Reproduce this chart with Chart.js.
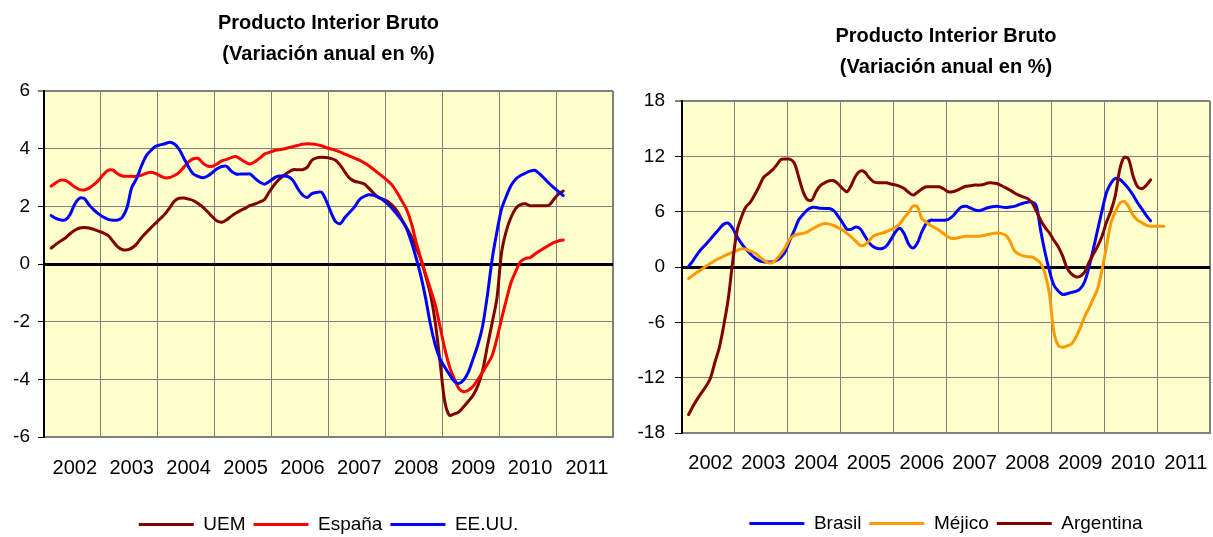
<!DOCTYPE html>
<html lang="es">
<head>
<meta charset="utf-8">
<title>Producto Interior Bruto</title>
<script src="https://cdn.jsdelivr.net/npm/chart.js@4.4.1/dist/chart.umd.min.js"></script>
<style>
  body { margin: 0; background: #fff; }
  #izq { position: absolute; left: 0; top: 0; }
  #der { position: absolute; left: 620px; top: 0; }
</style>
</head>
<body>
<canvas id="izq" width="620" height="537"></canvas>
<canvas id="der" width="593" height="537"></canvas>
<script>
// años del eje (una etiqueta por año, 12 meses por año)
const anios = ["2002", "2003", "2004", "2005", "2006", "2007", "2008", "2009", "2010", "2011"];
const meses = [];
anios.forEach(a => { for (let m = 1; m <= 12; m++) meses.push(a + "-" + m); });

const titulo = ["Producto Interior Bruto", "(Variación anual en %)"];

// grafica izquierda (variación anual en %, mensual)
const uem = [null,
  0.55, 0.68, 0.80, 0.90, 1.05, 1.17, 1.25, 1.27, 1.25, 1.20, 1.14, 1.08,
  0.99, 0.80, 0.60, 0.50, 0.49, 0.55, 0.69, 0.90, 1.08, 1.25, 1.41, 1.57,
  1.73, 1.95, 2.18, 2.28, 2.29, 2.25, 2.20, 2.10, 1.97, 1.81, 1.64, 1.49,
  1.45, 1.53, 1.66, 1.77, 1.86, 1.94, 2.03, 2.08, 2.15, 2.24, 2.50, 2.73,
  2.92, 3.06, 3.18, 3.27, 3.27, 3.27, 3.35, 3.60, 3.68, 3.70, 3.69, 3.66,
  3.60, 3.42, 3.18, 2.97, 2.87, 2.83, 2.78, 2.63, 2.46, 2.31, 2.25, 2.17,
  2.03, 1.83, 1.53, 1.25, 0.95, 0.55, 0.15, -0.42, -1.05, -2.00, -3.35, -4.75,
  -5.25, -5.20, -5.13, -4.95, -4.76, -4.55, -4.22, -3.70, -2.85, -2.05, -1.21, 0.40,
  1.15, 1.62, 1.93, 2.06, 2.09, 2.02, 2.02, 2.02, 2.02, 2.04, 2.24, 2.42,
  2.53];
const espana = [null,
  2.70, 2.82, 2.91, 2.90, 2.80, 2.67, 2.58, 2.57, 2.63, 2.75, 2.90, 3.10,
  3.25, 3.26, 3.13, 3.05, 3.04, 3.04, 3.04, 3.08, 3.14, 3.18, 3.14, 3.06,
  2.99, 3.00, 3.07, 3.18, 3.36, 3.54, 3.65, 3.66, 3.50, 3.40, 3.39, 3.47,
  3.58, 3.63, 3.69, 3.73, 3.63, 3.53, 3.47, 3.55, 3.67, 3.81, 3.87, 3.93,
  3.96, 3.99, 4.03, 4.07, 4.11, 4.15, 4.17, 4.16, 4.14, 4.10, 4.04, 3.99,
  3.94, 3.88, 3.81, 3.74, 3.67, 3.60, 3.51, 3.41, 3.28, 3.15, 3.02, 2.88,
  2.72, 2.47, 2.18, 1.88, 1.40, 0.75, 0.18, -0.36, -0.87, -1.40, -2.15, -2.92,
  -3.55, -3.97, -4.32, -4.43, -4.38, -4.24, -4.01, -3.75, -3.48, -3.18, -2.60, -1.90,
  -1.25, -0.64, -0.25, 0.08, 0.19, 0.22, 0.34, 0.45, 0.55, 0.65, 0.74, 0.80,
  0.83];
const eeuu = [null,
  1.68, 1.58, 1.53, 1.53, 1.72, 2.08, 2.28, 2.27, 2.05, 1.88, 1.74, 1.63,
  1.55, 1.52, 1.52, 1.62, 1.95, 2.65, 2.95, 3.38, 3.74, 3.93, 4.08, 4.13,
  4.17, 4.22, 4.16, 3.98, 3.67, 3.36, 3.12, 3.04, 2.99, 3.05, 3.17, 3.30,
  3.38, 3.39, 3.22, 3.12, 3.12, 3.12, 3.12, 2.97, 2.84, 2.77, 2.86, 2.98,
  3.05, 3.05, 3.03, 2.90, 2.62, 2.40, 2.31, 2.44, 2.48, 2.49, 2.20, 1.80,
  1.47, 1.40, 1.62, 1.80, 1.98, 2.23, 2.34, 2.40, 2.38, 2.32, 2.22, 2.08,
  1.91, 1.71, 1.50, 1.21, 0.75, 0.20, -0.43, -1.20, -2.10, -2.80, -3.29, -3.57,
  -3.83, -4.06, -4.14, -4.02, -3.75, -3.29, -2.80, -2.15, -1.10, 0.15, 1.10, 1.91,
  2.35, 2.72, 2.95, 3.07, 3.15, 3.22, 3.25, 3.13, 2.97, 2.80, 2.65, 2.51,
  2.37];

// grafica derecha
const brasil = [null,
  0.05, 0.70, 1.40, 2.00, 2.50, 3.05, 3.60, 4.15, 4.65, 4.75, 4.20, 3.30,
  2.55, 1.95, 1.45, 1.00, 0.70, 0.57, 0.54, 0.55, 0.70, 1.05, 1.70, 2.90,
  3.95, 5.10, 5.70, 6.20, 6.45, 6.45, 6.36, 6.34, 6.34, 6.10, 5.50, 4.80,
  4.10, 4.10, 4.35, 4.15, 3.40, 2.65, 2.20, 2.00, 2.00, 2.30, 3.00, 3.80,
  4.20, 3.60, 2.50, 2.05, 2.60, 3.80, 4.70, 5.07, 5.07, 5.07, 5.07, 5.15,
  5.50, 6.05, 6.50, 6.58, 6.40, 6.20, 6.10, 6.25, 6.42, 6.53, 6.59, 6.52,
  6.45, 6.50, 6.57, 6.75, 6.92, 7.02, 7.05, 6.65, 4.00, 1.60, -0.40, -1.95,
  -2.60, -2.98, -2.90, -2.75, -2.65, -2.35, -1.63, 0.00, 2.00, 4.10, 6.20, 8.10,
  9.10, 9.60, 9.50, 9.05, 8.50, 7.80, 7.00, 6.30, 5.60, 5.00];
const mejico = [null,
  -1.25, -0.90, -0.55, -0.25, 0.10, 0.40, 0.70, 0.95, 1.17, 1.40, 1.58, 1.80,
  1.97, 1.92, 1.72, 1.55, 1.15, 0.75, 0.48, 0.45, 0.85, 1.45, 2.15, 3.05,
  3.40, 3.58, 3.65, 3.80, 4.10, 4.35, 4.58, 4.71, 4.65, 4.50, 4.25, 4.02,
  3.65, 3.25, 2.80, 2.35, 2.40, 2.85, 3.35, 3.55, 3.68, 3.85, 4.05, 4.30,
  4.70, 5.35, 5.90, 6.60, 6.55, 5.25, 4.85, 4.50, 4.25, 3.95, 3.60, 3.25,
  3.08, 3.15, 3.25, 3.33, 3.33, 3.33, 3.33, 3.42, 3.52, 3.62, 3.68, 3.65,
  3.45, 2.85, 1.80, 1.40, 1.20, 1.12, 1.08, 0.85, 0.40, -0.70, -2.90, -7.00,
  -8.50, -8.70, -8.55, -8.35, -7.65, -6.60, -5.40, -4.45, -3.40, -2.30, -0.20, 2.30,
  4.80, 6.00, 6.90, 7.10, 6.55, 5.62, 5.10, 4.80, 4.55, 4.42, 4.42, 4.42,
  4.42];
const argentina = [null,
  -16.0, -15.1, -14.3, -13.6, -12.9, -12.0, -10.3, -8.7, -6.3, -3.5, 0.5, 3.9,
  5.4, 6.5, 7.0, 7.8, 8.7, 9.7, 10.1, 10.5, 11.05, 11.65, 11.7, 11.7,
  11.3, 9.8, 8.2, 7.3, 7.25, 8.2, 8.85, 9.15, 9.35, 9.35, 9.0, 8.5,
  8.15, 8.9, 9.9, 10.4, 10.3, 9.7, 9.25, 9.13, 9.13, 9.13, 9.0, 8.9,
  8.75, 8.5, 8.1, 7.8, 8.1, 8.45, 8.7, 8.7, 8.7, 8.7, 8.45, 8.15,
  8.15, 8.3, 8.55, 8.75, 8.8, 8.88, 8.88, 8.95, 9.1, 9.12, 9.06, 8.85,
  8.6, 8.35, 8.05, 7.8, 7.6, 7.43, 7.0, 6.1, 5.1, 4.3, 3.7, 2.9,
  2.2, 1.2, -0.1, -0.75, -1.05, -1.0, -0.54, 0.5, 1.4, 2.3, 3.4, 4.9,
  6.1, 7.8, 10.6, 11.9, 11.7, 9.9, 8.75, 8.5, 8.85, 9.45];

Chart.defaults.font.family = "'Liberation Sans', Arial, sans-serif";
Chart.defaults.color = "#000";

// fondo amarillo del area de trazado
const fondoAmarillo = {
  id: "fondoAmarillo",
  beforeDraw(chart) {
    const a = chart.chartArea;
    const ctx = chart.ctx;
    ctx.save();
    ctx.fillStyle = "#ffffcc";
    ctx.fillRect(a.left, a.top, a.right - a.left, a.bottom - a.top);
    ctx.restore();
  }
};

function serie(nombre, datos, color, orden) {
  return {
    label: nombre,
    data: datos,
    borderColor: color,
    backgroundColor: color,
    borderWidth: 3,
    borderCapStyle: "round",
    pointRadius: 0,
    tension: 0.3,
    fill: false,
    order: orden
  };
}

function crearGrafica(id, series, cfg) {
  new Chart(document.getElementById(id), {
    type: "line",
    data: { labels: meses, datasets: series },
    plugins: [fondoAmarillo],
    options: {
      responsive: false,
      animation: false,
      layout: { padding: cfg.padding },
      plugins: {
        tooltip: { enabled: false },
        title: {
          display: true,
          fullSize: false,
          text: titulo,
          color: "#000",
          font: { size: 20, weight: "bold", lineHeight: 1.55 },
          padding: cfg.tituloPad
        },
        legend: {
          position: "bottom",
          fullSize: false,
          labels: {
            usePointStyle: true,
            pointStyle: "line",
            pointStyleWidth: 55,
            padding: 8,
            color: "#000",
            font: { size: 19 },
            sort: (a, b) => a.datasetIndex - b.datasetIndex
          }
        }
      },
      scales: {
        x: {
          type: "category",
          offset: true,
          // el eje no reserva margen lateral para sus etiquetas
          afterFit: s => { s.height = cfg.altoX; s.paddingLeft = 0; s.paddingRight = 0; },
          grid: {
            offset: true,
            drawTicks: false,
            color: c => (c.index === undefined || c.index % 12 === 0 ? "#808080" : "transparent"),
            lineWidth: c => (c.index === undefined ? 2 : 1)
          },
          border: { color: "#808080", width: 2 },
          ticks: {
            autoSkip: false,
            maxRotation: 0,
            minRotation: 0,
            padding: cfg.padX,
            color: "#000",
            font: { size: 20 },
            callback: (v, i) => (i % 12 === 6 ? anios[Math.floor(i / 12)] : "")
          }
        },
        y: {
          min: cfg.min,
          max: cfg.max,
          afterFit: s => { s.width = cfg.anchoY; },
          ticks: {
            stepSize: cfg.paso,
            padding: cfg.padY,
            color: "#000",
            font: { size: 19 }
          },
          grid: {
            color: c => (c.tick && c.tick.value === 0 ? "#000" : "#808080"),
            lineWidth: c => (c.tick && c.tick.value === 0 ? 3 : (c.tick && c.tick.value === cfg.max ? 2 : 1)),
            tickLength: cfg.marca,
            tickColor: "#000",
            tickWidth: 1
          },
          border: { color: "#000", width: 2 }
        }
      }
    }
  });
}

crearGrafica("izq", [
  serie("UEM", uem, "#800000", 3),
  serie("España", espana, "#ff0000", 2),
  serie("EE.UU.", eeuu, "#0000ff", 1)
], {
  min: -6, max: 6, paso: 2,
  padding: { top: 0, left: 0, right: 7, bottom: -7 },
  tituloPad: { top: 8, bottom: 21 },
  anchoY: 44, marca: 6, padY: 8,
  altoX: 70, padX: 19
});

crearGrafica("der", [
  serie("Brasil", brasil, "#0000ff", 3),
  serie("Méjico", mejico, "#ff9900", 2),
  serie("Argentina", argentina, "#800000", 1)
], {
  min: -18, max: 18, paso: 6,
  padding: { top: 0, left: 0, right: 3, bottom: -6 },
  tituloPad: { top: 21, bottom: 18 },
  anchoY: 62, marca: 7, padY: 10,
  altoX: 73, padX: 18
});
</script>
</body>
</html>
